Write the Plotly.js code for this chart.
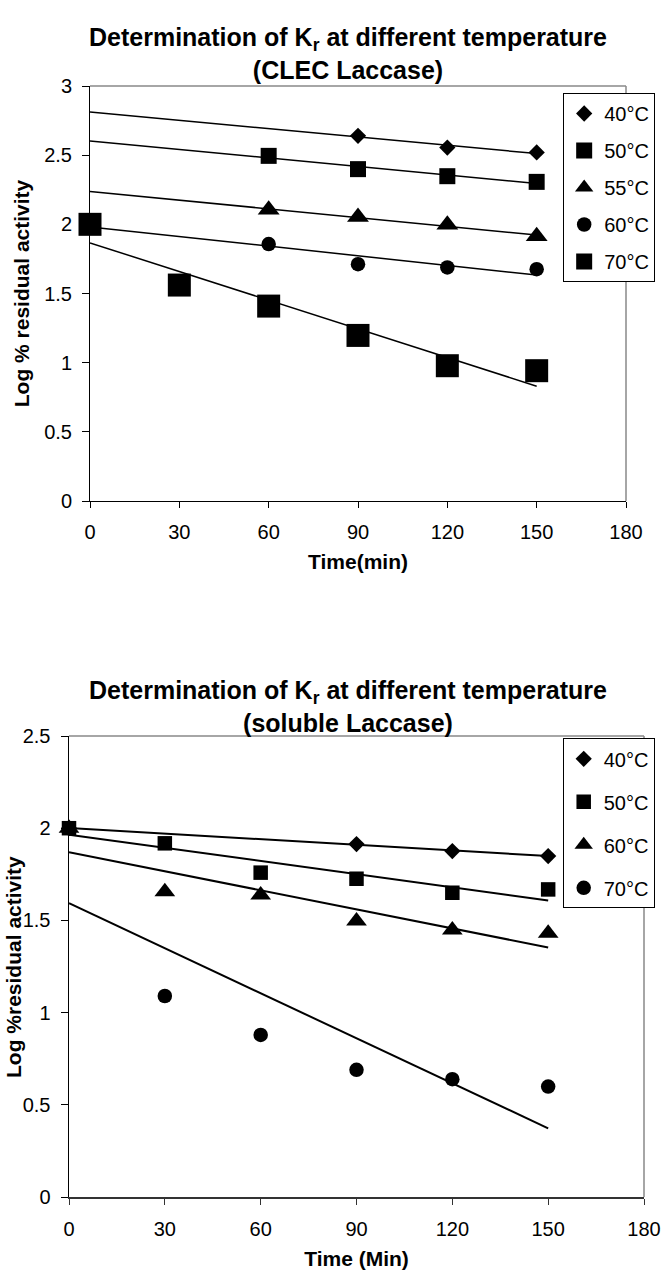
<!DOCTYPE html>
<html><head><meta charset="utf-8">
<script src="https://cdn.plot.ly/plotly-3.0.1.min.js"></script>
<style>body{margin:0;background:#fff}#top{width:667px;height:600px}#bot{width:667px;height:675px}</style>
</head><body><div id="top"></div><div id="bot"></div>
<script>
// ---- data ----
const timeMin = [0, 30, 60, 90, 120, 150];
const xTicks = [0, 30, 60, 90, 120, 150, 180];

const clecLabels = ['40°C', '50°C', '55°C', '60°C', '70°C'];
const clec40 = [null, null, null, 2.64, 2.555, 2.52];
const clec50 = [null, null, 2.495, 2.399, 2.348, 2.307];
const clec55 = [null, null, 2.105, 2.053, 1.997, 1.913];
const clec60 = [2.0, null, 1.857, 1.712, 1.688, 1.676];
const clec70 = [2.0, 1.561, 1.409, 1.197, 0.978, 0.942];

const solLabels = ['40°C', '50°C', '60°C', '70°C'];
const sol40 = [2.0, null, null, 1.914, 1.876, 1.849];
const sol50 = [2.0, 1.918, 1.759, 1.726, 1.650, 1.668];
const sol60 = [2.0, 1.656, 1.638, 1.497, 1.448, 1.430];
const sol70 = [2.0, 1.090, 0.879, 0.690, 0.639, 0.599];

// ---- helpers ----
const FONT = 'Liberation Sans, Arial, sans-serif';
function fit(x, y) {
  const px = [], py = [];
  x.forEach((v, i) => { if (y[i] !== null) { px.push(v); py.push(y[i]); } });
  const n = px.length;
  const mx = px.reduce((a, b) => a + b, 0) / n, my = py.reduce((a, b) => a + b, 0) / n;
  let sxy = 0, sxx = 0;
  px.forEach((v, i) => { sxy += (v - mx) * (py[i] - my); sxx += (v - mx) * (v - mx); });
  const b = sxy / sxx, a = my - b * mx;
  const x0 = x[0], x1 = x[x.length - 1];
  return { x: [x0, x1], y: [a + b * x0, a + b * x1] };
}
function trend(y, w) {
  const f = fit(timeMin, y);
  return { x: f.x, y: f.y, mode: 'lines', type: 'scatter', showlegend: false, hoverinfo: 'skip',
           line: { color: '#000', width: w }, cliponaxis: false };
}
function pts(y, name, sym, size, rank) {
  return { x: timeMin, y: y, name: name, mode: 'markers', type: 'scatter', legendgroup: name,
           legendrank: rank, cliponaxis: false,
           marker: { symbol: sym, size: size, color: '#000', line: { width: 0 } } };
}
function frame(col, w) {
  return [
    { type: 'line', xref: 'paper', yref: 'paper', x0: 0, x1: 1, y0: 1, y1: 1, line: { color: col, width: w } },
    { type: 'line', xref: 'paper', yref: 'paper', x0: 1, x1: 1, y0: 0, y1: 1, line: { color: col, width: w } }
  ];
}
function xax(title, lw, lc) {
  return { range: [0, 180], tickvals: xTicks, ticks: 'outside', ticklen: 6, tickcolor: lc, tickwidth: 1,
           showline: true, linecolor: lc, linewidth: lw, showgrid: false, zeroline: false,
           tickfont: { size: 20, color: '#000' }, ticklabelstandoff: 7,
           title: { text: title, font: { size: 21, weight: 'bold', color: '#000' }, standoff: 12 } };
}
function yax(title, maxv, lw, standoff) {
  return { range: [0, maxv], dtick: 0.5, tick0: 0, ticks: 'outside', ticklen: 7, tickcolor: '#000', tickwidth: 1,
           showline: true, linecolor: '#000', linewidth: lw, showgrid: false, zeroline: false,
           tickfont: { size: 20, color: '#000' }, ticklabelstandoff: 6,
           title: { text: title, font: { size: 21, weight: 'bold', color: '#000' }, standoff: standoff } };
}

// ---- top chart ----
const topData = [
  trend(clec40, 1.5), trend(clec50, 1.5), trend(clec55, 1.5), trend(clec60, 1.5), trend(clec70, 1.5),
  pts(clec40, clecLabels[0], 'diamond', 12.5, 1),
  pts(clec50, clecLabels[1], 'square', 16, 2),
  pts(clec55, clecLabels[2], 'triangle-up', 19, 3),
  pts(clec60, clecLabels[3], 'circle', 14.5, 4),
  pts(clec70, clecLabels[4], 'square', 23, 5)
];
const topLayout = {
  width: 667, height: 600, paper_bgcolor: '#fff', plot_bgcolor: '#fff',
  font: { family: FONT, color: '#000' },
  margin: { l: 90, r: 31, t: 86, b: 99 },
  title: { text: 'Determination of K<sub>r</sub> at different temperature<br>(CLEC Laccase)',
           font: { size: 25, weight: 'bold', color: '#000' }, xref: 'container', yref: 'container',
           x: 348 / 667, xanchor: 'center', y: 1 - 46 / 600, yanchor: 'middle' },
  xaxis: xax('Time(min)', 1, '#000'),
  yaxis: yax('Log % residual activity', 3, 1, 8),
  legend: { x: (572 - 90) / 546, xanchor: 'left', y: (501 - 93) / 415, yanchor: 'top',
            bordercolor: '#000', borderwidth: 1, bgcolor: '#fff', font: { size: 20, color: '#000' },
            traceorder: 'grouped', tracegroupgap: 8 },
  shapes: frame('#888', 1.5),
  showlegend: true
};

// ---- bottom chart ----
const botData = [
  trend(sol40, 2), trend(sol50, 2), trend(sol60, 2), trend(sol70, 2),
  pts(sol40, solLabels[0], 'diamond', 12.5, 1),
  pts(sol60, solLabels[2], 'triangle-up', 18, 3),
  pts(sol70, solLabels[3], 'circle', 14.5, 4),
  pts(sol50, solLabels[1], 'square', 14.5, 2)
];
const botYAxis = yax('', 2.5, 1.5, 0);
const botLayout = {
  width: 667, height: 675, paper_bgcolor: '#fff', plot_bgcolor: '#fff',
  font: { family: FONT, color: '#000' },
  margin: { l: 69, r: 18, t: 135.5, b: 77.7 },
  title: { text: 'Determination of K<sub>r</sub> at different temperature<br>(soluble Laccase)',
           font: { size: 25, weight: 'bold', color: '#000' }, xref: 'container', yref: 'container',
           x: 348 / 667, xanchor: 'center', y: 1 - 99 / 675, yanchor: 'middle' },
  xaxis: xax('Time (Min)', 2, '#333'),
  yaxis: botYAxis,
  annotations: [{ text: 'Log %residual activity', textangle: -90, showarrow: false,
                  xref: 'paper', yref: 'paper', x: (13 - 69) / 580, y: 0.5, xanchor: 'center', yanchor: 'middle',
                  font: { size: 21, weight: 'bold', color: '#000' } }],
  legend: { x: (567 - 69) / 580, xanchor: 'left', y: 0.995, yanchor: 'top',
            bordercolor: '#000', borderwidth: 1, bgcolor: '#fff', font: { size: 20, color: '#000' },
            traceorder: 'grouped', tracegroupgap: 14 },
  shapes: frame('#888', 1.5),
  showlegend: true
};

const cfg = { displayModeBar: false, staticPlot: true };
Plotly.newPlot('top', topData, topLayout, cfg);
Plotly.newPlot('bot', botData, botLayout, cfg);
</script></body></html>
